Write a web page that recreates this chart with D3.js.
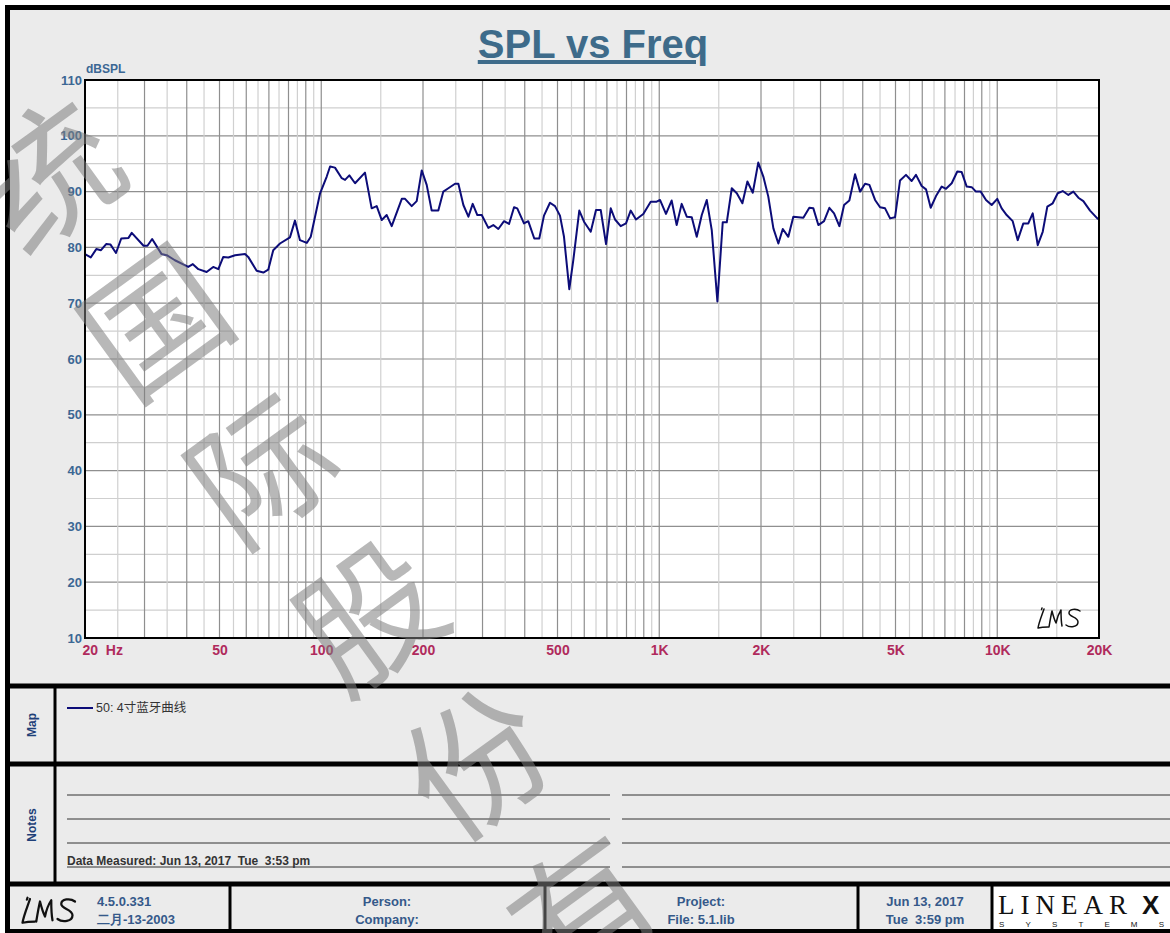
<!DOCTYPE html>
<html lang="zh">
<head>
<meta charset="UTF-8">
<title>SPL vs Freq</title>
<script src="https://d3js.org/d3.v7.min.js"></script>
<style>
  body { margin: 0; padding: 0; background: #fff; }
  svg { display: block; }
  .narrow { font-family: "Liberation Sans Narrow", "Arial Narrow", "Liberation Sans", Arial, sans-serif; }
  .sans { font-family: "Liberation Sans", Arial, sans-serif; }
</style>
</head>
<body>
<div id="chart"></div>
<script>
// SPL curve (Hz, dBSPL)
const freqHz = [20, 20.8, 21.6, 22.3, 23.1, 23.8, 24.7, 25.6, 26.9, 27.5, 29.8, 30.6, 31.6, 33.7, 34.9, 36.9,
  40.4, 41.7, 43.3, 45.8, 47.9, 49.6, 51.3, 53.1, 55.6, 59.5, 60.8, 64.4, 67.4, 69.7, 72.1, 75.5, 80.8, 83.6,
  86.5, 90.6, 93.1, 99.2, 103.8, 106.2, 109.8, 115, 117.6, 121.1, 125.9, 134.7, 141, 145.9, 151, 156.2, 161.6,
  173.1, 177, 185.2, 191.6, 198.3, 205.1, 212.2, 222, 229.7, 237.7, 248.8, 254.5, 263.3, 272.5, 280.6, 289.6,
  298.4, 312.1, 322.9, 334.1, 347.4, 359.4, 371.9, 380.1, 397.9, 409.7, 426.8, 441.6, 456, 475, 491.5, 508.5,
  522.6, 541.8, 556.8, 580, 599, 627, 650, 671.2, 696, 718.6, 739.9, 769, 797.3, 823.2, 853.5, 897, 943.5,
  982.7, 1005, 1047, 1088, 1126, 1165, 1206, 1248, 1291, 1336, 1382, 1430, 1486, 1541, 1584, 1639, 1696, 1762,
  1823, 1891, 1963, 2032, 2102, 2176, 2251, 2320, 2409, 2493, 2580, 2669, 2780, 2857, 2956, 3073, 3186, 3290,
  3411, 3522, 3651, 3796, 3928, 4064, 4185, 4350, 4501, 4657, 4819, 4984, 5157, 5370, 5582, 5749, 5976, 6155,
  6355, 6589, 6850, 7053, 7333, 7617, 7848, 8121, 8402, 8651, 8934, 9263, 9628, 10002, 10306, 10663, 11110,
  11496, 11944, 12357, 12733, 13174, 13631, 14065, 14592, 15098, 15621, 16230, 16794, 17375, 17977, 18816,
  19770, 20000];
const splDb = [78.8, 78.2, 79.7, 79.5, 80.6, 80.5, 79.0, 81.6, 81.7, 82.6, 80.3, 80.3, 81.5, 78.8, 78.6, 77.7,
  76.5, 77.0, 76.1, 75.6, 76.5, 76.1, 78.3, 78.2, 78.6, 78.8, 78.3, 75.8, 75.5, 76.0, 79.5, 80.7, 81.8, 84.8,
  81.3, 80.8, 81.9, 89.7, 92.7, 94.5, 94.3, 92.4, 92.1, 92.9, 91.5, 93.4, 87.0, 87.4, 84.9, 85.8, 83.8,
  88.7, 88.7, 87.4, 88.3, 93.8, 91.2, 86.6, 86.6, 90.0, 90.6, 91.4, 91.4, 87.6, 85.5, 87.8, 85.8,
  85.8, 83.5, 84.0, 83.3, 84.7, 84.2, 87.2, 87.0, 84.3, 84.7, 81.6, 81.6, 85.7, 88.0, 87.4, 85.7,
  81.9, 72.5, 77.7, 86.6, 84.6, 82.8, 86.7, 86.7, 80.6, 87.0, 85.0, 83.8, 84.3, 86.6, 85.0, 86.0, 88.2,
  88.2, 88.5, 86.0, 88.4, 84.0, 87.8, 85.5, 85.4, 81.9, 85.8, 88.5, 83.1, 70.3, 84.5, 84.5, 90.6, 89.7, 87.9,
  91.8, 89.8, 95.2, 92.7, 89.1, 83.4, 80.7, 83.3, 81.9, 85.5, 85.4, 85.3, 87.1, 87.0, 84.0, 84.7, 87.1, 86.1,
  83.8, 87.6, 88.4, 93.1, 90.0, 91.4, 91.2, 88.5, 87.2, 87.0, 85.2, 85.4, 92.0, 93.0, 91.9, 93.0, 91.0, 90.4,
  87.1, 89.2, 90.9, 90.5, 91.5, 93.6, 93.5, 90.9, 90.8, 90.0, 90.0, 88.5, 87.6, 88.7, 87.0, 85.8, 84.7,
  81.3, 84.3, 84.3, 86.1, 80.4, 82.8, 87.3, 87.9, 89.7, 90.1, 89.4, 90.0, 88.9, 88.3, 86.6,
  85.2, 85.0];

const yTicks = [10, 20, 30, 40, 50, 60, 70, 80, 90, 100, 110];
const xTicks = [20, 50, 100, 200, 500, 1000, 2000, 5000, 10000, 20000];
const xTickLabels = ["20  Hz", "50", "100", "200", "500", "1K", "2K", "5K", "10K", "20K"];
const gridSteps = [1, 1.5, 2, 2.5, 3, 3.5, 4, 4.5, 5, 5.5, 6, 6.5, 7, 7.5, 8, 8.5, 9, 9.5];
const decades = [10, 100, 1000, 10000];

const legendLabel = "50: 4寸蓝牙曲线";
const notesText = "Data Measured: Jun 13, 2017  Tue  3:53 pm";
const footerLeft = ["4.5.0.331", "二月-13-2003"];
const footerCols = [["Person:", "Company:"], ["Project:", "File: 5.1.lib"], ["Jun 13, 2017", "Tue  3:59 pm"]];
const watermark = ["统", "国", "际", "股", "份", "有"];

const W = 1170, H = 933;
const plot = { left: 85, right: 1099, top: 80, bottom: 638 };
const blueText = "#3b6794";
const redText = "#b02a5c";
const footBlue = "#35598a";

// hand-written "LMS" signature, drawn in a 50x26 box
const lmsPath = "M6,3 L5.5,4.5 M8,4 C6,10 3,17 2,23 C6,22 9,22 12,22 " +
  "M13,22 C14,16 15,10 16,6 C17,10 18,14 20,18 C21,13 23,8 25,5 C25,11 25,16 26,21 " +
  "M44,6 C40,3 33,4 33,8 C33,12 42,12 42,17 C42,22 34,23 30,20";

const svg = d3.select("#chart").append("svg")
  .attr("width", W).attr("height", H);

// sheet background
svg.append("rect").attr("x", 0).attr("y", 0).attr("width", W).attr("height", H).attr("fill", "#fff");
svg.append("rect").attr("x", 8).attr("y", 8).attr("width", W).attr("height", H).attr("fill", "#ebebeb");

// title
svg.append("text")
  .attr("class", "sans")
  .attr("x", 593).attr("y", 58)
  .attr("text-anchor", "middle")
  .attr("font-size", 40).attr("font-weight", "bold")
  .attr("fill", "#3e6b8a")
  .attr("text-decoration", "underline")
  .text("SPL vs Freq");

const x = d3.scaleLog().domain([20, 20000]).range([plot.left, plot.right]);
const y = d3.scaleLinear().domain([10, 110]).range([plot.bottom, plot.top]);

svg.append("rect")
  .attr("x", plot.left).attr("y", plot.top)
  .attr("width", plot.right - plot.left).attr("height", plot.bottom - plot.top)
  .attr("fill", "#fff");

// grid
const vGrid = [];
decades.forEach(d => gridSteps.forEach(s => {
  const f = d * s;
  if (f > 20 && f < 20000) vGrid.push(f);
}));
const hGrid = d3.range(15, 110, 5);

svg.append("g").selectAll("line").data(hGrid).join("line")
  .attr("x1", plot.left).attr("x2", plot.right)
  .attr("y1", d => y(d)).attr("y2", d => y(d))
  .attr("stroke", d => d % 10 === 0 ? "#8f8f8f" : "#cfcfcf")
  .attr("stroke-width", 1.2);

svg.append("g").selectAll("line").data(vGrid).join("line")
  .attr("x1", d => x(d)).attr("x2", d => x(d))
  .attr("y1", plot.top).attr("y2", plot.bottom)
  .attr("stroke", d => Number.isInteger(d / Math.pow(10, Math.floor(Math.log10(d) + 1e-9))) ? "#8f8f8f" : "#d0d0d0")
  .attr("stroke-width", 1.2);

// curve
const line = d3.line().x((d, i) => x(freqHz[i])).y(d => y(d));
svg.append("path")
  .attr("d", line(splDb))
  .attr("fill", "none")
  .attr("stroke", "#0c0c78")
  .attr("stroke-width", 2)
  .attr("stroke-linejoin", "round");

svg.append("rect")
  .attr("x", plot.left).attr("y", plot.top)
  .attr("width", plot.right - plot.left).attr("height", plot.bottom - plot.top)
  .attr("fill", "none").attr("stroke", "#000").attr("stroke-width", 2);

// axes
const yAxis = svg.append("g")
  .attr("transform", `translate(${plot.left},0)`)
  .call(d3.axisLeft(y).tickValues(yTicks).tickSize(0).tickPadding(3));
yAxis.select(".domain").remove();
yAxis.selectAll("text")
  .attr("class", "sans")
  .attr("font-size", 13).attr("font-weight", "bold")
  .attr("fill", blueText);

const xAxis = svg.append("g")
  .attr("transform", `translate(0,${plot.bottom})`)
  .call(d3.axisBottom(x).tickValues(xTicks).tickFormat((d, i) => xTickLabels[i]).tickSize(0).tickPadding(7));
xAxis.select(".domain").remove();
xAxis.selectAll("text")
  .attr("class", "sans")
  .attr("font-size", 14).attr("font-weight", "bold")
  .attr("fill", redText)
  .style("white-space", "pre");
xAxis.selectAll("text").filter((d, i) => i === 0)
  .attr("text-anchor", "start").attr("x", -3);

svg.append("text")
  .attr("class", "sans")
  .attr("x", 86).attr("y", 73)
  .attr("font-size", 12).attr("font-weight", "bold")
  .attr("fill", blueText)
  .text("dBSPL");

// LMS signature inside plot
svg.append("path")
  .attr("d", lmsPath)
  .attr("transform", "translate(1036,605)")
  .attr("fill", "none").attr("stroke", "#111").attr("stroke-width", 1.5)
  .attr("stroke-linecap", "round").attr("stroke-linejoin", "round");

// panel borders
const thick = "#000";
[[686, 5], [764, 5], [884, 5], [931, 4]].forEach(([yy, w]) => {
  svg.append("line").attr("x1", 5).attr("x2", W).attr("y1", yy).attr("y2", yy)
    .attr("stroke", thick).attr("stroke-width", w);
});
svg.append("line").attr("x1", 5).attr("x2", W).attr("y1", 7.5).attr("y2", 7.5).attr("stroke", thick).attr("stroke-width", 5);
svg.append("line").attr("x1", 7.5).attr("x2", 7.5).attr("y1", 5).attr("y2", H).attr("stroke", thick).attr("stroke-width", 5);
svg.append("line").attr("x1", 55).attr("x2", 55).attr("y1", 688).attr("y2", 882).attr("stroke", thick).attr("stroke-width", 3);

// map panel
svg.append("text")
  .attr("class", "sans")
  .attr("transform", "translate(36,725) rotate(-90)")
  .attr("text-anchor", "middle")
  .attr("font-size", 12).attr("font-weight", "bold").attr("fill", "#1e3f78")
  .text("Map");
svg.append("line").attr("x1", 67).attr("x2", 93).attr("y1", 708).attr("y2", 708)
  .attr("stroke", "#0c0c78").attr("stroke-width", 2);
svg.append("text")
  .attr("x", 96).attr("y", 712)
  .attr("font-family", "Liberation Sans, 'Noto Sans CJK SC', sans-serif")
  .attr("font-size", 12.5).attr("fill", "#333")
  .text(legendLabel);

// notes panel
svg.append("text")
  .attr("class", "sans")
  .attr("transform", "translate(36,825) rotate(-90)")
  .attr("text-anchor", "middle")
  .attr("font-size", 12).attr("font-weight", "bold").attr("fill", "#1e3f78")
  .text("Notes");
[795, 819, 843, 867].forEach(yy => {
  svg.append("line").attr("x1", 67).attr("x2", 610).attr("y1", yy).attr("y2", yy).attr("stroke", "#333").attr("stroke-width", 1);
  svg.append("line").attr("x1", 622).attr("x2", W).attr("y1", yy).attr("y2", yy).attr("stroke", "#333").attr("stroke-width", 1);
});
svg.append("text")
  .attr("class", "narrow")
  .attr("x", 67).attr("y", 865)
  .attr("font-size", 12).attr("font-weight", "bold").attr("fill", "#333")
  .style("white-space", "pre")
  .text(notesText);

// footer
svg.append("rect").attr("x", 993).attr("y", 887).attr("width", W - 993).attr("height", 42).attr("fill", "#fff");
[230, 545, 858, 992].forEach(xx => {
  svg.append("line").attr("x1", xx).attr("x2", xx).attr("y1", 886).attr("y2", 930)
    .attr("stroke", thick).attr("stroke-width", 3);
});
svg.append("path")
  .attr("d", lmsPath)
  .attr("transform", "translate(20,894) scale(1.25)")
  .attr("fill", "none").attr("stroke", "#111").attr("stroke-width", 1.8)
  .attr("stroke-linecap", "round").attr("stroke-linejoin", "round");
footerLeft.forEach((t, i) => {
  svg.append("text").attr("class", "narrow")
    .attr("x", 97).attr("y", 906 + i * 18)
    .attr("font-size", 13).attr("font-weight", "bold").attr("fill", footBlue)
    .text(t);
});
const colCenters = [387, 701, 925];
footerCols.forEach((rows, c) => rows.forEach((t, i) => {
  svg.append("text").attr("class", "narrow")
    .attr("x", colCenters[c]).attr("y", 906 + i * 18)
    .attr("text-anchor", "middle")
    .attr("font-size", 13).attr("font-weight", "bold").attr("fill", footBlue)
    .style("white-space", "pre")
    .text(t);
}));
svg.append("text")
  .attr("x", 998).attr("y", 914)
  .attr("font-family", "Liberation Serif, serif")
  .attr("font-size", 27).attr("fill", "#111")
  .attr("letter-spacing", 6)
  .text("LINEAR");
svg.append("text")
  .attr("x", 1142).attr("y", 914)
  .attr("font-family", "Liberation Sans, sans-serif").attr("font-weight", "bold")
  .attr("font-size", 26).attr("fill", "#111")
  .text("X");
svg.append("text")
  .attr("x", 999).attr("y", 927)
  .attr("font-family", "Liberation Sans, sans-serif")
  .attr("font-size", 8).attr("fill", "#111")
  .attr("textLength", 165).attr("lengthAdjust", "spacing")
  .text("SYSTEMS");

// watermark
svg.append("g").selectAll("text").data(watermark).join("text")
  .attr("transform", (d, i) => `translate(${43 + i * 107},${168 + i * 147}) rotate(-36)`)
  .attr("text-anchor", "middle").attr("dominant-baseline", "central")
  .attr("font-family", "Noto Sans CJK SC, sans-serif")
  .attr("font-size", 140)
  .attr("fill", "#7e7e7e").attr("fill-opacity", 0.55)
  .text(d => d);
</script>
</body>
</html>
